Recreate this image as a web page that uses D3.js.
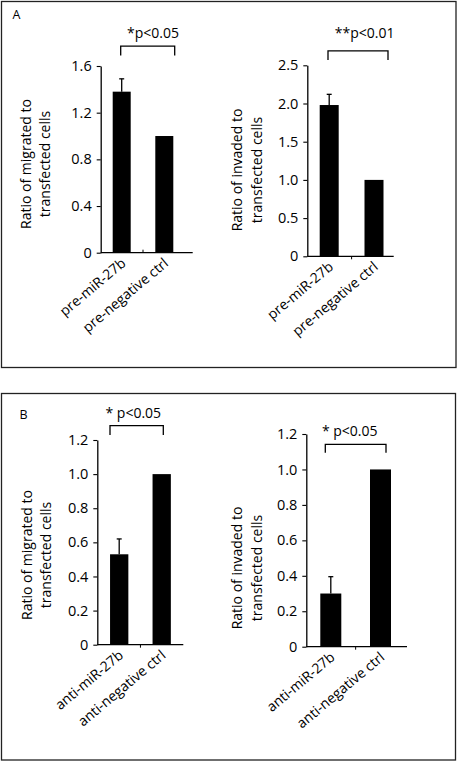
<!DOCTYPE html>
<html>
<head>
<meta charset="utf-8">
<script src="https://cdn.jsdelivr.net/npm/d3@7/dist/d3.min.js"></script>
<style>
  html, body { margin: 0; padding: 0; background: #fff; }
  svg { display: block; }
  text { font-family: "Open Sans", "Noto Sans", sans-serif; fill: #000; }
</style>
</head>
<body>
<svg id="chart" width="458" height="762"></svg>
<script>
// ---- data ----
const categoriesPre = ["pre-miR-27b", "pre-negative ctrl"];
const categoriesAnti = ["anti-miR-27b", "anti-negative ctrl"];

const migratedPre = [1.38, 1.0];
const migratedPreErr = [0.11, 0];
const invadedPre = [1.98, 1.0];
const invadedPreErr = [0.14, 0];
const migratedAnti = [0.53, 1.0];
const migratedAntiErr = [0.09, 0];
const invadedAnti = [0.30, 1.0];
const invadedAntiErr = [0.095, 0];

const ticksA1 = [0, 0.4, 0.8, 1.2, 1.6];
const tickLabelsA1 = ["0", "0.4", "0.8", "1.2", "1.6"];
const ticksA2 = [0, 0.5, 1.0, 1.5, 2.0, 2.5];
const tickLabelsA2 = ["0", "0.5", "1.0", "1.5", "2.0", "2.5"];
const ticksB = [0, 0.2, 0.4, 0.6, 0.8, 1.0, 1.2];
const tickLabelsB = ["0", "0.2", "0.4", "0.6", "0.8", "1.0", "1.2"];

const yLabelMigrated = ["Ratio of migrated to", "transfected cells"];
const yLabelInvaded = ["Ratio of invaded to", "transfected cells"];
const pTexts = ["*p<0.05", "**p<0.01", "* p<0.05", "* p<0.05"];
const panelLabels = ["A", "B"];

// ---- layout ----
const svg = d3.select("#chart");

const frames = [
  {x: 1.5, y: 1.5, w: 454.5, h: 366, label: panelLabels[0], lx: 12.5, ly: 18.5},
  {x: 1.5, y: 393.5, w: 454, h: 366.5, label: panelLabels[1], lx: 19.5, ly: 418.5}
];
frames.forEach(f => {
  svg.append("rect").attr("x", f.x).attr("y", f.y).attr("width", f.w).attr("height", f.h)
    .attr("fill", "none").attr("stroke", "#222").attr("stroke-width", 1.3);
  svg.append("text").attr("x", f.lx).attr("y", f.ly).attr("font-size", 12.5).text(f.label);
});

const charts = [
  {cats: categoriesPre, vals: migratedPre, errs: migratedPreErr, ticks: ticksA1, tickLabels: tickLabelsA1,
   domain: [0, 1.6], y0: 252.7, y1: 66, axisX: 100.7, axisEnd: 192.7, c: [121.7, 164.3], bw: 18,
   ylab: yLabelMigrated, ylx: [31, 50], yly: 164,
   p: pTexts[0], bracketY: 1.77, bL: 120.7, bR: 174.7, drop: 9.3, pX: 153, pGap: 7.7, midTickDir: -1},
  {cats: categoriesPre, vals: invadedPre, errs: invadedPreErr, ticks: ticksA2, tickLabels: tickLabelsA2,
   domain: [0, 2.5], y0: 256.3, y1: 65.3, axisX: 307.3, axisEnd: 393.7, c: [329.2, 374], bw: 19,
   ylab: yLabelInvaded, ylx: [241.5, 261.5], yly: 170,
   p: pTexts[1], bracketY: 2.69, bL: 328, bR: 388, drop: 9.3, pX: 364.7, pGap: 13, midTickDir: 1},
  {cats: categoriesAnti, vals: migratedAnti, errs: migratedAntiErr, ticks: ticksB, tickLabels: tickLabelsB,
   domain: [0, 1.2], y0: 644.7, y1: 440, axisX: 97.3, axisEnd: 183.3, c: [119.2, 161.7], bw: 18.3,
   ylab: yLabelMigrated, ylx: [31.5, 51], yly: 555,
   p: pTexts[2], bracketY: 1.284, bL: 110, bR: 163.3, drop: 9.3, pX: 133.3, pGap: 8, midTickDir: 1},
  {cats: categoriesAnti, vals: invadedAnti, errs: invadedAntiErr, ticks: ticksB, tickLabels: tickLabelsB,
   domain: [0, 1.2], y0: 646.7, y1: 434, axisX: 306.3, axisEnd: 407, c: [330.8, 380.5], bw: 21,
   ylab: yLabelInvaded, ylx: [241.5, 261.5], yly: 568,
   p: pTexts[3], bracketY: 1.142, bL: 325.3, bR: 386, drop: 8.4, pX: 349.7, pGap: 8.3, midTickDir: 1}
];

charts.forEach(ch => {
  const g = svg.append("g");
  const y = d3.scaleLinear().domain(ch.domain).range([ch.y0, ch.y1]);
  const x = d3.scalePoint().domain(ch.cats).range(ch.c);

  const yAxis = d3.axisLeft(y).tickValues(ch.ticks)
    .tickFormat((d, i) => ch.tickLabels[i]).tickSize(4).tickPadding(5).tickSizeOuter(0);
  const ya = g.append("g").attr("transform", `translate(${ch.axisX},0)`).call(yAxis);
  ya.select(".domain").attr("stroke", "#000").attr("stroke-width", 1.3);
  ya.selectAll(".tick line").attr("stroke", "#000").attr("stroke-width", 1.1);
  ya.selectAll(".tick text").attr("font-size", 14.5)
    .attr("font-family", "'Open Sans', sans-serif").attr("fill", "#000");

  g.append("line").attr("x1", ch.axisX).attr("x2", ch.axisEnd).attr("y1", ch.y0).attr("y2", ch.y0)
    .attr("stroke", "#000").attr("stroke-width", 1.3);
  const mid = (x(ch.cats[0]) + x(ch.cats[1])) / 2;
  g.append("line").attr("x1", mid).attr("x2", mid).attr("y1", ch.y0).attr("y2", ch.y0 + 3 * ch.midTickDir)
    .attr("stroke", "#000").attr("stroke-width", 1);

  g.selectAll("rect.bar").data(ch.vals).enter().append("rect").attr("class", "bar")
    .attr("x", (d, i) => x(ch.cats[i]) - ch.bw / 2)
    .attr("width", ch.bw)
    .attr("y", d => y(d))
    .attr("height", d => y(0) - y(d))
    .attr("fill", "#000");

  ch.vals.forEach((v, i) => {
    const e = ch.errs[i];
    if (!e) return;
    const cx = x(ch.cats[i]);
    g.append("line").attr("x1", cx).attr("x2", cx).attr("y1", y(v)).attr("y2", y(v + e))
      .attr("stroke", "#000").attr("stroke-width", 1.3);
    g.append("line").attr("x1", cx - 2.5).attr("x2", cx + 2.5).attr("y1", y(v + e)).attr("y2", y(v + e))
      .attr("stroke", "#000").attr("stroke-width", 1.3);
  });

  ch.cats.forEach(c => {
    const ax = x(c) + 5, ay = ch.y0 + 12;
    g.append("text").attr("transform", `translate(${ax},${ay}) rotate(-40)`)
      .attr("text-anchor", "end").attr("font-size", 14).text(c);
  });

  ch.ylab.forEach((t, i) => {
    g.append("text").attr("transform", `translate(${ch.ylx[i]},${ch.yly}) rotate(-90)`)
      .attr("text-anchor", "middle").attr("font-size", 14).text(t);
  });

  const by = y(ch.bracketY);
  g.append("path")
    .attr("d", `M${ch.bL},${by + ch.drop}V${by}H${ch.bR}V${by + ch.drop}`)
    .attr("fill", "none").attr("stroke", "#000").attr("stroke-width", 1.3);
  g.append("text").attr("x", ch.pX).attr("y", by - ch.pGap).attr("text-anchor", "middle")
    .attr("font-size", 14).text(ch.p);
});
</script>
</body>
</html>
